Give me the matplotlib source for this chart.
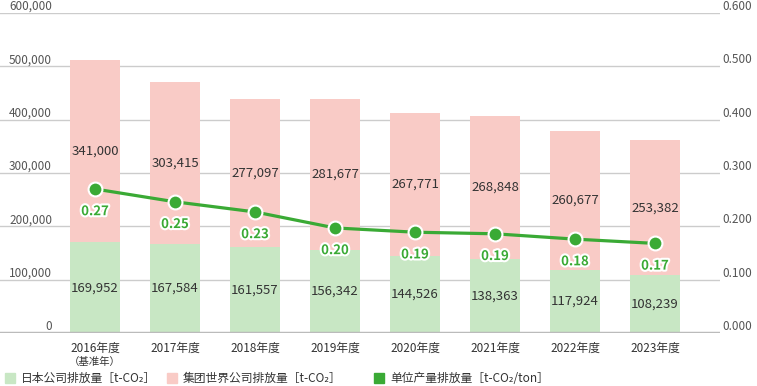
import matplotlib
matplotlib.use("Agg")
import matplotlib.pyplot as plt
import matplotlib.patheffects as pe
import matplotlib.transforms as mtrans
import numpy as np

plt.rcParams['font.family'] = ['Noto Sans CJK JP', 'DejaVu Sans']

years = ["2016年度", "2017年度", "2018年度", "2019年度", "2020年度", "2021年度", "2022年度", "2023年度"]
japan = [169952, 167584, 161557, 156342, 144526, 138363, 117924, 108239]
world = [341000, 303415, 277097, 281677, 267771, 268848, 260677, 253382]
unit = [0.270, 0.246, 0.227, 0.197, 0.189, 0.186, 0.176, 0.168]
left_ticks = [0, 100000, 200000, 300000, 400000, 500000, 600000]
right_ticks = [0.0, 0.1, 0.2, 0.3, 0.4, 0.5, 0.6]

c_jp = "#c8e7c4"
c_world = "#f9cbc6"
c_line = "#3aaa35"
c_text = "#333333"
c_tick = "#555555"

fig = plt.figure(figsize=(7.57, 3.86), dpi=100)
ax = fig.add_axes([0, 1 - 333 / 386, 720 / 757, 320 / 386])
x = np.arange(len(years))
ax.set_xlim(-95 / 80, (720 - 95) / 80)
ax.set_ylim(0, 600000)

for v in left_ticks[1:]:
    ax.axhline(v, color="#cccccc", lw=1, zorder=0)
ax.axhline(0, color="#bbbbbb", lw=2.5, zorder=3)

ax.bar(x, japan, width=0.625, color=c_jp, zorder=1)
ax.bar(x, world, width=0.625, bottom=japan, color=c_world, zorder=1)

for i in range(len(years)):
    ax.text(x[i], japan[i] / 2, f"{japan[i]:,}", ha="center", va="center", fontsize=9.5, color=c_text, zorder=4)
    ax.text(x[i], japan[i] + world[i] / 2, f"{world[i]:,}", ha="center", va="center", fontsize=9.5, color=c_text, zorder=4)

for s in ax.spines.values():
    s.set_visible(False)
ax.set_xticks([])
ax.set_yticks([])

# y labels sit above the gridlines
tl = mtrans.blended_transform_factory(fig.transFigure, ax.transData)
for v in left_ticks:
    fig.text(52 / 757, v, f"{v:,}", transform=tl, ha="right", va="bottom", fontsize=8.5, color=c_tick)
ax2 = ax.twinx()
ax2.set_ylim(0, 0.6)
ax2.set_yticks([])
for s in ax2.spines.values():
    s.set_visible(False)
tr = mtrans.blended_transform_factory(fig.transFigure, ax2.transData)
for v in right_ticks:
    fig.text(752 / 757, v, f"{v:.3f}", transform=tr, ha="right", va="bottom", fontsize=8.5, color=c_tick)

ax2.plot(x, unit, color=c_line, lw=2.3, marker="o", ms=10, mfc=c_line, mec="white", mew=1.5, zorder=5)
for i in range(len(years)):
    ax2.annotate(f"{unit[i]:.2f}", (x[i], unit[i]), xytext=(0, -16), textcoords="offset points",
                 ha="center", va="center", fontsize=9.5, color=c_line, fontweight="bold",
                 path_effects=[pe.withStroke(linewidth=3, foreground="white")], zorder=6)

# x labels
tx = mtrans.blended_transform_factory(ax.transData, fig.transFigure)
for i in range(len(years)):
    fig.text(x[i], 1 - 348 / 386, years[i], transform=tx, ha="center", va="center", fontsize=8.5, color=c_text)
fig.text(x[0], 1 - 362 / 386, "（基准年）", transform=tx, ha="center", va="center", fontsize=7.5, color=c_text)

# legend
leg = [(5, c_jp, "日本公司排放量［t-CO₂］"), (167, c_world, "集团世界公司排放量［t-CO₂］"), (374, c_line, "单位产量排放量［t-CO₂/ton］")]
for px, col, lab in leg:
    fig.patches.append(plt.Rectangle((px / 757, 1 - 383 / 386), 10 / 757, 10 / 386, transform=fig.transFigure, color=col))
    fig.text((px + 16) / 757, 1 - 378 / 386, lab, ha="left", va="center", fontsize=8.5, color=c_text)

fig.savefig("out.png", dpi=100)
